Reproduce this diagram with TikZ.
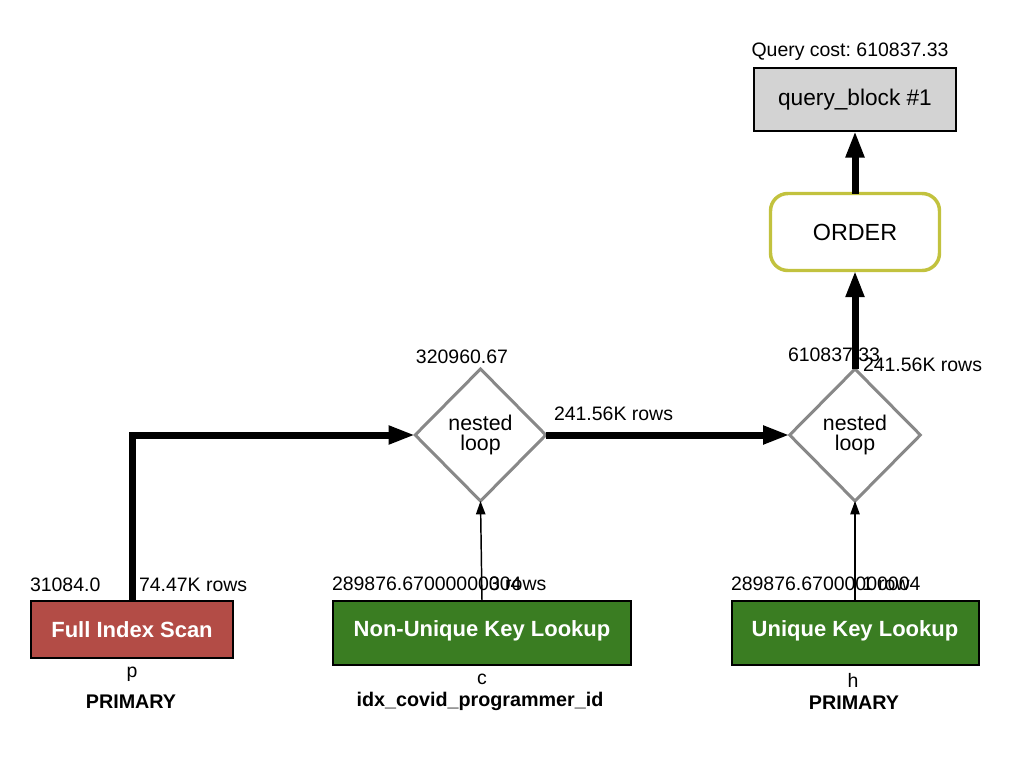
\documentclass[tikz,border=0pt]{standalone}
\usepackage{fontspec}
\setmainfont{Liberation Sans}
\usetikzlibrary{shapes.geometric,arrows.meta}
\frenchspacing

\definecolor{scanred}{HTML}{B34C46}
\definecolor{lookgreen}{HTML}{3A7D22}
\definecolor{blockgray}{HTML}{D3D3D3}
\definecolor{orderolive}{HTML}{C2C23E}
\definecolor{loopgray}{HTML}{888888}

\begin{document}
\begin{tikzpicture}[x=0.75pt,y=-0.75pt,
  every node/.style={inner sep=0pt,outer sep=0pt},
  lbl/.style={font=\fontsize{14.6}{17}\selectfont},
  keylbl/.style={font=\bfseries\fontsize{14.8}{17}\selectfont},
  opbox/.style={draw=black,line width=1.5pt,text=white,
    font=\bfseries\fontsize{16.5}{19}\selectfont,text height=11.8pt,text depth=0pt},
  loopnode/.style={diamond,aspect=1,draw=loopgray,line width=2.25pt,fill=white,
    minimum width=98pt,minimum height=99pt,align=center,
    font=\fontsize{16}{15}\selectfont},
  flow/.style={line width=5.25pt,-{Triangle[length=20pt,width=13pt]}},
  probe/.style={line width=1.1pt,-{Triangle[length=10pt,width=7pt]}}]
\useasboundingbox (0,0) rectangle (1034,774);

% operation boxes
\node[opbox,fill=scanred,minimum width=151.5pt,minimum height=42.75pt] (fis) at (132,629.5) {Full Index Scan};
\node[opbox,fill=lookgreen,minimum width=223.5pt,minimum height=48pt,text depth=6pt] (nukl) at (482,633) {Non-Unique Key Lookup};
\node[opbox,fill=lookgreen,minimum width=185.25pt,minimum height=48pt,text depth=6pt] (ukl) at (855,633) {Unique Key Lookup};

% joins, ordering and the query block
\node[loopnode] (nl1) at (480.5,435) {nested\\loop};
\node[loopnode] (nl2) at (855,435) {nested\\loop};
\node[draw=orderolive,line width=2.6pt,rounded corners=13pt,fill=white,
  minimum width=126.75pt,minimum height=57.75pt,
  font=\fontsize{17.5}{20}\selectfont] (order) at (855,232) {ORDER};
\node[draw=black,line width=1.5pt,fill=blockgray,minimum width=151.5pt,minimum height=47pt,
  font=\fontsize{17}{20}\selectfont] (qb) at (855,99.5) {query\_block \#1};

% data flow
\draw[flow] (fis.north) |- (nl1.west);
\draw[flow] (nl1.east) -- (nl2.west);
\draw[flow] (nl2.north) -- (order.south);
\draw[flow] (order.north) -- (qb.south);
\draw[probe] (nukl.north) -- (nl1.south);
\draw[probe] (ukl.north) -- (nl2.south);

% costs and row counts
\node[lbl,anchor=base] (qcost) at (850,56) {Query cost: 610837.33};
\node[lbl,anchor=base] (c1) at (462,363) {320960.67};
\node[lbl,anchor=base west] (c2) at (788,361) {610837.33};
\node[lbl,anchor=base west] (r3) at (863,371) {241.56K rows};
\node[lbl,anchor=base west] (r2) at (554,420) {241.56K rows};
\node[lbl,anchor=base west] (cfis) at (30,591) {31084.0};
\node[lbl,anchor=base west] (rfis) at (139,591) {74.47K rows};
\node[lbl,anchor=base west] (cnukl) at (332,590) {289876.67000000004};
\node[lbl,anchor=base west] (rnukl) at (489,590) {3 rows};
\node[lbl,anchor=base west] (cukl) at (731,590) {289876.67000000004};
\node[lbl,anchor=base west] (rukl) at (862,590) {1 row};

% tables and keys
\node[lbl,anchor=base] (tp) at (132,677) {p};
\node[keylbl,anchor=base] (kp) at (131,708) {PRIMARY};
\node[lbl,anchor=base] (tc) at (482,684) {c};
\node[keylbl,anchor=base] (kc) at (480,706) {idx\_covid\_programmer\_id};
\node[lbl,anchor=base] (th) at (853,687) {h};
\node[keylbl,anchor=base] (kh) at (854,709) {PRIMARY};
\end{tikzpicture}
\end{document}
